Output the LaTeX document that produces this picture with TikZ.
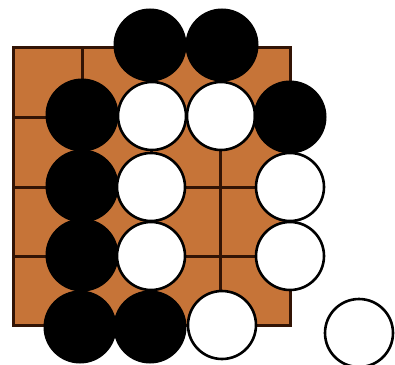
\documentclass[tikz,border=0pt]{standalone}
\begin{document}
\begin{tikzpicture}[x=1pt,y=-1pt,
  blackstone/.style={circle,fill=black,draw=black,line width=1pt,minimum size=72pt,inner sep=0pt},
  whitestone/.style={circle,fill=white,draw=black,line width=2.6pt,minimum size=68pt,inner sep=0pt},
  gridline/.style={draw=boardline,line width=3pt}]
\definecolor{boardfill}{RGB}{198,116,56}
\definecolor{boardline}{RGB}{50,20,5}
\useasboundingbox (0,0) rectangle (395,364);
\clip (0,0) rectangle (395,364);
% board
\fill[boardfill] (13,47) rectangle (290,325);
\foreach \x in {82,151,220} \draw[gridline] (\x,47) -- (\x,325);
\foreach \y in {117,187,256} \draw[gridline] (13,\y) -- (290,\y);
\draw[gridline,line join=miter] (13,47) rectangle (290,325);
% stones
\node[blackstone] (b1) at (150,45) {};
\node[blackstone] (b2) at (222,45) {};
\node[blackstone] (b3) at (82,115) {};
\node[whitestone] (w1) at (152,116) {};
\node[whitestone] (w2) at (221,116) {};
\node[blackstone] (b4) at (290,117) {};
\node[blackstone] (b5) at (82,186) {};
\node[whitestone] (w3) at (151,187) {};
\node[whitestone] (w4) at (290,187) {};
\node[blackstone] (b6) at (82,255) {};
\node[whitestone] (w5) at (151,256) {};
\node[whitestone] (w6) at (290,256) {};
\node[blackstone] (b7) at (80,327) {};
\node[blackstone] (b8) at (150,327) {};
\node[whitestone] (w7) at (222,325) {};
\node[whitestone] (w8) at (359,333) {};
\end{tikzpicture}
\end{document}
